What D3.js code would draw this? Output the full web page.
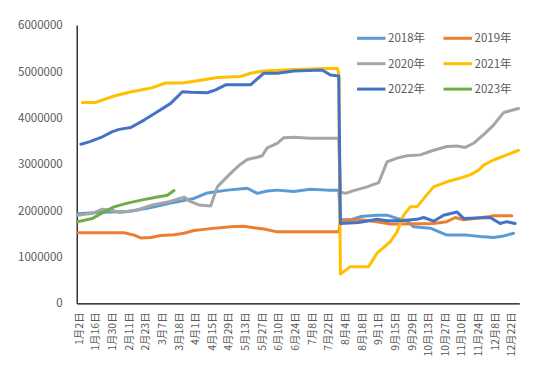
<!DOCTYPE html>
<html>
<head>
<meta charset="utf-8">
<script src="https://cdn.jsdelivr.net/npm/d3@7"></script>
<style>
body { margin: 0; background: #fff; }
text { font-family: "Noto Sans CJK SC", "Noto Sans", sans-serif; fill: #595959; }
</style>
</head>
<body>
<script>
var width = 550;
var height = 389;

// category axis: trading days, a label every 10 days
var dayCount = 266;
var tickStep = 10;
var tickLabels = ["1月2日", "1月16日", "1月30日", "2月11日", "2月23日", "3月7日", "3月18日",
    "4月1日", "4月15日", "4月29日", "5月13日", "5月27日", "6月10日", "6月24日", "7月8日",
    "7月22日", "8月4日", "8月18日", "9月1日", "9月15日", "9月29日", "10月13日", "10月27日",
    "11月10日", "11月24日", "12月8日", "12月22日"];
var yTicks = [0, 1000000, 2000000, 3000000, 4000000, 5000000, 6000000];

var years = ["2018年", "2019年", "2020年", "2021年", "2022年", "2023年"];
var colors = ["#5b9bd5", "#ed7d31", "#a5a5a5", "#ffc000", "#4472c4", "#70ad47"];

// [day index, value]
var s2018 = [[0,1930000],[10,1950000],[20,1970000],[30,1980000],[42,2050000],[56,2160000],[70,2260000],
    [78,2380000],[90,2440000],[102,2480000],[108,2370000],[114,2420000],[120,2440000],[130,2410000],
    [140,2460000],[150,2440000],[157,2440000],[158,1800000],[164,1800000],[170,1870000],[180,1900000],
    [186,1900000],[192,1830000],[198,1780000],[202,1650000],[212,1620000],[222,1470000],[234,1470000],
    [242,1440000],[250,1420000],[256,1450000],[262,1510000]];
var s2019 = [[0,1520000],[28,1520000],[34,1470000],[38,1410000],[44,1420000],[50,1460000],[58,1480000],
    [64,1510000],[70,1570000],[80,1610000],[92,1650000],[100,1660000],[106,1630000],[112,1600000],
    [120,1540000],[157,1540000],[158,1780000],[170,1800000],[180,1760000],[188,1710000],[194,1710000],
    [214,1720000],[222,1760000],[227,1850000],[232,1800000],[238,1830000],[248,1870000],[250,1890000],
    [261,1890000]];
var s2020 = [[0,1900000],[9,1940000],[15,2030000],[21,2000000],[25,1960000],[35,2000000],[45,2120000],
    [55,2190000],[64,2290000],[68,2190000],[73,2120000],[80,2100000],[84,2510000],[90,2730000],
    [94,2870000],[98,3000000],[102,3100000],[108,3150000],[111,3180000],[114,3350000],[120,3450000],
    [124,3570000],[130,3580000],[140,3560000],[157,3560000],[158,2400000],[161,2370000],[166,2430000],
    [174,2510000],[181,2600000],[186,3050000],[192,3130000],[198,3180000],[206,3200000],[214,3300000],
    [222,3380000],[228,3390000],[233,3360000],[238,3450000],[245,3670000],[250,3840000],[256,4110000],
    [260,4150000],[265,4200000]];
var s2021 = [[3,4330000],[11,4330000],[22,4470000],[31,4550000],[38,4600000],[45,4650000],[53,4750000],
    [63,4750000],[74,4810000],[84,4870000],[98,4890000],[104,4960000],[112,5010000],[130,5040000],
    [140,5050000],[156,5070000],[157,4970000],[158,630000],[164,790000],[175,790000],[180,1080000],
    [188,1330000],[192,1540000],[196,1900000],[200,2080000],[204,2080000],[209,2300000],[214,2510000],
    [222,2620000],[230,2700000],[236,2770000],[241,2870000],[244,2980000],[250,3090000],[258,3200000],
    [265,3300000]];
var s2022 = [[2,3430000],[7,3480000],[15,3590000],[21,3700000],[25,3750000],[32,3790000],[40,3950000],
    [48,4130000],[56,4310000],[63,4560000],[68,4550000],[78,4540000],[83,4600000],[89,4710000],
    [104,4710000],[112,4960000],[120,4960000],[130,5010000],[147,5030000],[152,4920000],[157,4900000],
    [158,1720000],[169,1740000],[180,1810000],[186,1780000],[194,1780000],[204,1810000],[208,1850000],
    [214,1770000],[220,1900000],[228,1970000],[232,1830000],[248,1850000],[254,1720000],[258,1760000],
    [263,1720000]];
var s2023 = [[0,1760000],[9,1830000],[16,1970000],[22,2080000],[30,2160000],[39,2230000],[48,2290000],
    [54,2330000],[58,2430000]];
var series = [s2018, s2019, s2020, s2021, s2022, s2023];

var plotLeft = 76.7, plotRight = 519.3, plotTop = 25, plotBottom = 303.3;

var svg = d3.select("body").append("svg")
    .attr("width", width)
    .attr("height", height);

var x = d3.scaleLinear().domain([-0.5, dayCount - 0.5]).range([plotLeft, plotRight]);
var y = d3.scaleLinear().domain([0, 6000000]).range([plotBottom, plotTop]);

// y axis
var yAxis = svg.append("g")
    .attr("transform", "translate(" + plotLeft + ",0)")
    .call(d3.axisLeft(y).tickValues(yTicks).tickSize(0).tickPadding(14).tickFormat(d3.format("d")));
yAxis.select(".domain").attr("stroke", "#000").attr("stroke-width", 1.2);
yAxis.selectAll("text").style("font-size", "11.5px").attr("fill", "#595959");

// x axis
var xAxis = svg.append("g")
    .attr("transform", "translate(0," + plotBottom + ")")
    .call(d3.axisBottom(x)
        .tickValues(tickLabels.map(function(d, i) { return i * tickStep; }))
        .tickSize(0)
        .tickFormat(function(d) { return tickLabels[d / tickStep]; }));
xAxis.select(".domain").attr("stroke", "#000").attr("stroke-width", 1.2);
xAxis.selectAll("text")
    .style("font-size", "10.5px")
    .attr("fill", "#595959")
    .attr("text-anchor", "end")
    .attr("dy", "0.35em")
    .attr("transform", "translate(1,9) rotate(-90)")
    .attr("y", 0)
    .attr("x", 0);

var line = d3.line()
    .x(function(d) { return x(d[0]); })
    .y(function(d) { return y(d[1]); });

series.forEach(function(s, i) {
    svg.append("path")
        .datum(s)
        .attr("d", line)
        .attr("fill", "none")
        .attr("stroke", colors[i])
        .attr("stroke-width", 3)
        .attr("stroke-linejoin", "round")
        .attr("stroke-linecap", "round");
});

// legend, two columns
var legend = svg.append("g");
years.forEach(function(name, i) {
    var col = i % 2, row = Math.floor(i / 2);
    var lx = 357 + col * 86.5;
    var ly = 38.3 + row * 25.4;
    legend.append("line")
        .attr("x1", lx).attr("x2", lx + 28.5)
        .attr("y1", ly).attr("y2", ly)
        .attr("stroke", colors[i])
        .attr("stroke-width", 3);
    legend.append("text")
        .attr("x", lx + 31)
        .attr("y", ly)
        .attr("dy", "0.36em")
        .style("font-size", "11.5px")
        .text(name);
});
</script>
</body>
</html>
